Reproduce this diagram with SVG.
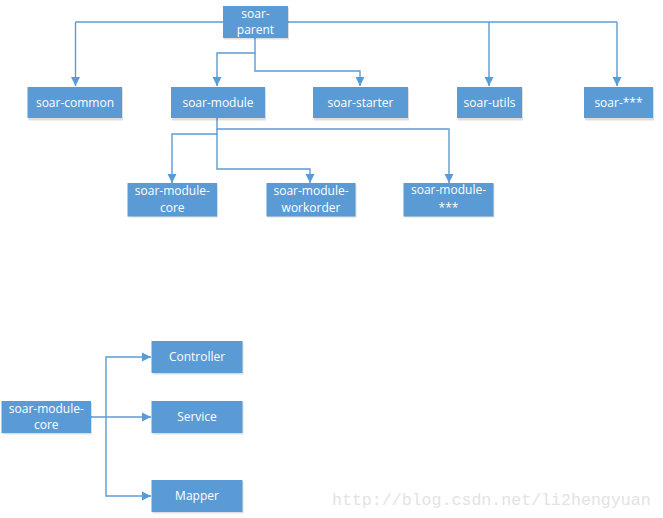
<svg xmlns="http://www.w3.org/2000/svg" width="663" height="518" viewBox="0 0 663 518">
<style>
.box{fill:#5B9BD5}
.sh{fill:#000;opacity:0.13}
.t{font-family:"Open Sans","Noto Sans",sans-serif;font-size:12px;fill:#fff;text-anchor:middle}
.c{fill:none;stroke:#5B9BD5;stroke-width:1.4}
.wm{font-family:"Liberation Mono",monospace;font-size:16.6px;fill:#e3e3e3}
</style>
<defs>
<marker id="ah" markerUnits="userSpaceOnUse" markerWidth="10" markerHeight="10" viewBox="0 0 10 10" refX="9" refY="5" orient="auto">
<path d="M0,0.5 L9,5 L0,9.5 Z" fill="#5B9BD5"/>
</marker>
</defs>
<rect width="663" height="518" fill="#fff"/>
<g id="connectors">
<path class="c" d="M75.5 22 H617"/>
<path class="c" d="M75.5 22 V86" marker-end="url(#ah)"/>
<path class="c" d="M489 22 V86" marker-end="url(#ah)"/>
<path class="c" d="M617 22 V86" marker-end="url(#ah)"/>
<path class="c" d="M255 38 V53 H217 V86" marker-end="url(#ah)"/>
<path class="c" d="M255 53 V71 H360 V86" marker-end="url(#ah)"/>
<path class="c" d="M217 118 V129 H449 V183" marker-end="url(#ah)"/>
<path class="c" d="M217 129 V134 H172 V183" marker-end="url(#ah)"/>
<path class="c" d="M217 134 V169 H310 V183" marker-end="url(#ah)"/>
<path class="c" d="M91 417 H151" marker-end="url(#ah)"/>
<path class="c" d="M106 417 V357 H151" marker-end="url(#ah)"/>
<path class="c" d="M106 417 V496 H151" marker-end="url(#ah)"/>
</g>
<g id="soar-parent"><rect class="sh" x="224" y="7.5" width="65" height="32"/><rect class="box" x="223" y="6" width="65" height="32"/><text class="t" x="255.5" y="18.2">soar-</text><text class="t" x="255.5" y="34.4">parent</text></g>
<g id="soar-common"><rect class="sh" x="28.5" y="88.5" width="94.5" height="32"/><rect class="box" x="27.5" y="87" width="94.5" height="31"/><text class="t" x="75" y="106.5">soar-common</text></g>
<g id="soar-module"><rect class="sh" x="172" y="88.5" width="94" height="32"/><rect class="box" x="171" y="87" width="94" height="31"/><text class="t" x="218" y="106.5">soar-module</text></g>
<g id="soar-starter"><rect class="sh" x="314" y="88.5" width="95" height="32"/><rect class="box" x="313" y="87" width="95" height="31"/><text class="t" x="360.5" y="106.5">soar-starter</text></g>
<g id="soar-utils"><rect class="sh" x="458" y="88.5" width="65" height="32"/><rect class="box" x="457" y="87" width="65" height="31"/><text class="t" x="489.5" y="106.5">soar-utils</text></g>
<g id="soar-other"><rect class="sh" x="585" y="88.5" width="69" height="32"/><rect class="box" x="584" y="87" width="69" height="31"/><text class="t" x="618.5" y="106.5">soar-***</text></g>
<g id="soar-module-core"><rect class="sh" x="128.5" y="184.5" width="89.5" height="33"/><rect class="box" x="127.5" y="183" width="89.5" height="33.5"/><text class="t" x="172.3" y="194.8">soar-module-</text><text class="t" x="172.3" y="211.6">core</text></g>
<g id="soar-module-workorder"><rect class="sh" x="267.5" y="184.5" width="89" height="33"/><rect class="box" x="266.5" y="183" width="89" height="33.5"/><text class="t" x="311" y="195.2">soar-module-</text><text class="t" x="311" y="212">workorder</text></g>
<g id="soar-module-other"><rect class="sh" x="404.5" y="184.5" width="90" height="33"/><rect class="box" x="403.5" y="183" width="90" height="33.5"/><text class="t" x="448.5" y="194">soar-module-</text><text class="t" x="448.5" y="212">***</text></g>
<g id="core2"><rect class="sh" x="2.5" y="402.5" width="89.5" height="32"/><rect class="box" x="1.5" y="401" width="89.5" height="32"/><text class="t" x="46.3" y="412.8">soar-module-</text><text class="t" x="46.3" y="429">core</text></g>
<g id="controller"><rect class="sh" x="152.5" y="342.5" width="91" height="32"/><rect class="box" x="151.5" y="341" width="91" height="32"/><text class="t" x="197" y="361">Controller</text></g>
<g id="service"><rect class="sh" x="152.5" y="402.5" width="91" height="32"/><rect class="box" x="151.5" y="401" width="91" height="32"/><text class="t" x="197" y="420.8">Service</text></g>
<g id="mapper"><rect class="sh" x="152.5" y="481.5" width="91" height="32"/><rect class="box" x="151.5" y="480" width="91" height="32"/><text class="t" x="197" y="500">Mapper</text></g>
<text class="wm" x="332" y="505">http://blog.csdn.net/li2hengyuan</text>
</svg>
